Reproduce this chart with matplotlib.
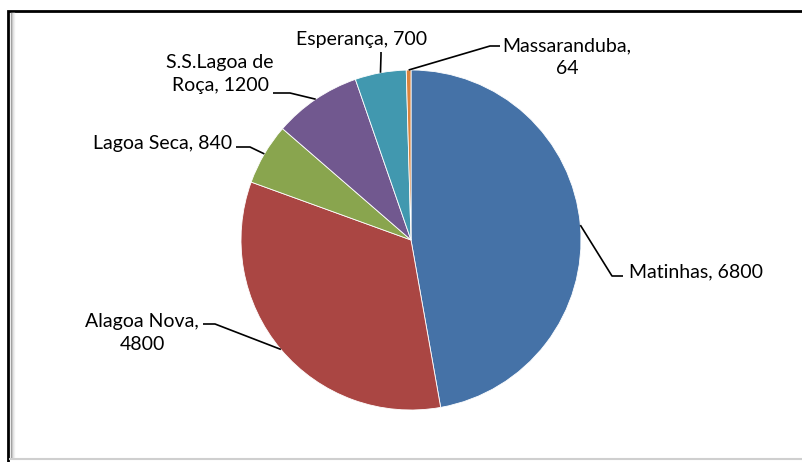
import numpy as np
import matplotlib.pyplot as plt
from matplotlib.patches import Rectangle

plt.rcParams['font.family'] = ['Lato', 'DejaVu Sans']

names = ['Matinhas', 'Alagoa Nova', 'Lagoa Seca', 'S.S.Lagoa de Roça', 'Esperança', 'Massaranduba']
values = [6800, 4800, 840, 1200, 700, 64]
label_texts = ['Matinhas, 6800', 'Alagoa Nova,\n4800', 'Lagoa Seca, 840',
               'S.S.Lagoa de\nRoça, 1200', 'Esperança, 700', 'Massaranduba,\n64']
colors = ['#4572A7', '#AA4643', '#89A54E', '#71588F', '#4198AF', '#DB843D']

W, H = 802, 462
CX, CY, R = 411, 240, 170


def fy(y):
    # image rows -> axis units (y up)
    return H - y


# text position, elbow point, end of leader near text (all in image px), alignment
layout = [
    ((629, 272), (612, 276), (623, 276), 'left'),
    ((142, 333), (215, 324), (203, 324), 'center'),
    ((232, 143), (250, 147), (236, 147), 'right'),
    ((220, 74), (290, 93), (273, 93), 'center'),
    ((362, 40), (381, 55), (381, 52), 'center'),
    ((567, 57), (490, 46), (500, 46), 'center'),
]

fig = plt.figure(figsize=(W / 100, H / 100), dpi=100)
ax = fig.add_axes([0, 0, 1, 1])
ax.set_xlim(0, W)
ax.set_ylim(0, H)
ax.axis('off')

wedges, _ = ax.pie(values, colors=colors, startangle=90, counterclock=False,
                   center=(CX, fy(CY)), radius=R,
                   wedgeprops=dict(edgecolor='white', linewidth=0.6))
ax.set_xlim(0, W)
ax.set_ylim(0, H)
ax.set_aspect('equal')

for w, txt, (tpos, elbow, tend, ha) in zip(wedges, label_texts, layout):
    ang = np.deg2rad((w.theta1 + w.theta2) / 2)
    sx = CX + R * np.cos(ang)
    sy = fy(CY) + R * np.sin(ang)
    ax.plot([sx, elbow[0], tend[0]], [sy, fy(elbow[1]), fy(tend[1])],
            color='black', lw=1.2, solid_capstyle='butt')
    ax.text(tpos[0], fy(tpos[1]), txt, ha=ha, va='center', fontsize=14,
            color='black', linespacing=1.4, multialignment='center')

# outer frame with soft inner shadow
ax.add_patch(Rectangle((8, -5), W + 10, fy(11) + 5, fill=False,
                       edgecolor='black', lw=2, clip_on=False))
for i, g in enumerate(['#9a9a9a', '#c4c4c4', '#e0e0e0', '#f0f0f0']):
    ax.plot([10.5 + i, 10.5 + i], [fy(13), fy(458)], color=g, lw=1)
ax.plot([10, W], [fy(459), fy(459)], color='#cfcfcf', lw=1.5)

fig.savefig('out.png', dpi=100)
